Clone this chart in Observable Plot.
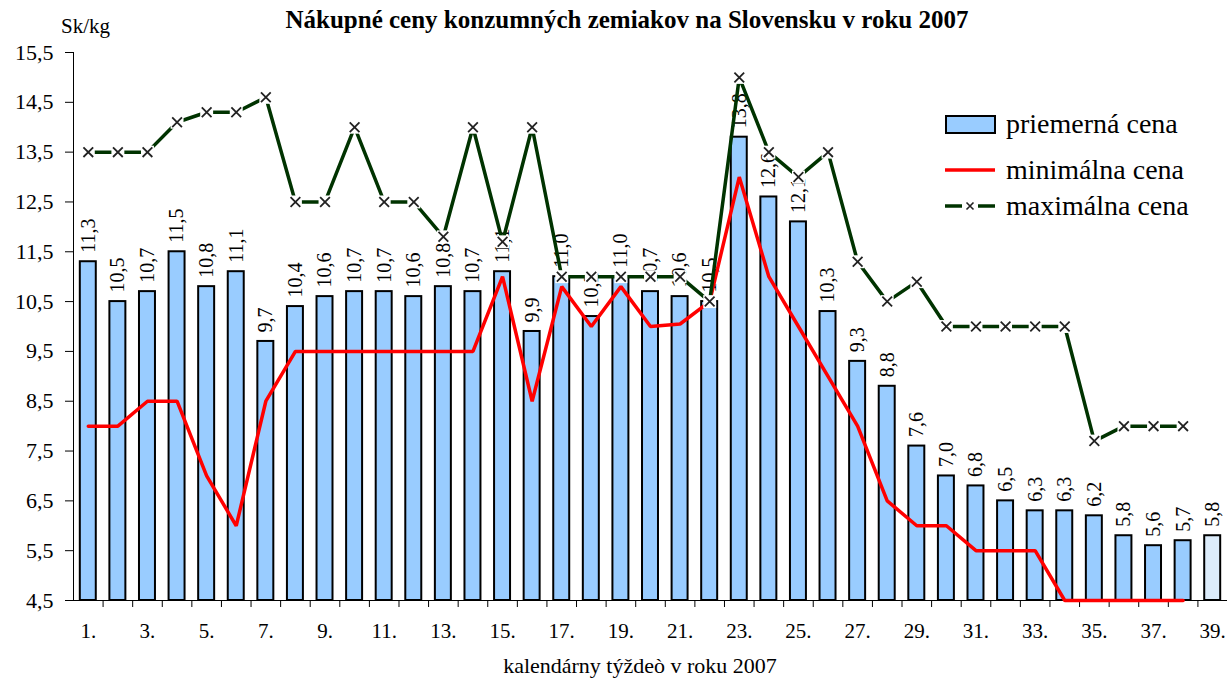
<!DOCTYPE html>
<html>
<head>
<meta charset="utf-8">
<script src="https://cdn.jsdelivr.net/npm/d3@7"></script>
<script src="https://cdn.jsdelivr.net/npm/@observablehq/plot@0.6"></script>
<style>
  html, body { margin: 0; padding: 0; background: #fff; }
  #wrap, #wrap * { font-family: "Liberation Serif", "Times New Roman", serif !important; }
  #wrap { position: relative; width: 1227px; height: 684px; color: #000; }
  #chart svg text { font-family: "Liberation Serif", "Times New Roman", serif !important; }
  .abs { position: absolute; white-space: nowrap; }
  #title { left: 0; width: 1254px; text-align: center; top: 6px; font-size: 25px; font-weight: bold; }
  #unit { left: 61px; top: 14px; font-size: 21px; }
  #xlabel { left: 0; width: 1280px; text-align: center; top: 653px; font-size: 22px; }
  .leg { position: absolute; left: 945px; font-size: 28px; display: flex; align-items: center; }
  .leg svg { margin-right: 9px; }
</style>
</head>
<body>
<div id="wrap">
  <div id="chart"></div>
  <div class="abs" id="title">Nákupné ceny konzumných zemiakov na Slovensku v roku 2007</div>
  <div class="abs" id="unit">Sk/kg</div>
  <div class="abs" id="xlabel">kalendárny týždeò v roku 2007</div>
  <div id="legend"></div>
</div>
<script>
// ---- data ----
const weeks = [1,2,3,4,5,6,7,8,9,10,11,12,13,14,15,16,17,18,19,20,21,22,23,24,25,26,27,28,29,30,31,32,33,34,35,36,37,38,39];
const avgPrice = [11.3,10.5,10.7,11.5,10.8,11.1,9.7,10.4,10.6,10.7,10.7,10.6,10.8,10.7,11.1,9.9,11.0,10.2,11.0,10.7,10.6,10.5,13.8,12.6,12.1,10.3,9.3,8.8,7.6,7.0,6.8,6.5,6.3,6.3,6.2,5.8,5.6,5.7,5.8];
const minPrice = [8.0,8.0,8.5,8.5,7.0,6.0,8.5,9.5,9.5,9.5,9.5,9.5,9.5,9.5,11.0,8.5,10.8,10.0,10.8,10.0,10.05,10.5,13.0,11.0,10.0,9.0,8.0,6.5,6.0,6.0,5.5,5.5,5.5,4.5,4.5,4.5,4.5,4.5,null];
const maxPrice = [13.5,13.5,13.5,14.1,14.3,14.3,14.6,12.5,12.5,14.0,12.5,12.5,11.8,14.0,11.7,14.0,11.0,11.0,11.0,11.0,11.0,10.5,15.0,13.5,13.0,13.5,11.3,10.5,10.9,10.0,10.0,10.0,10.0,10.0,7.7,8.0,8.0,8.0,null];
const preliminaryWeeks = [39];
const yTicks = [4.5,5.5,6.5,7.5,8.5,9.5,10.5,11.5,12.5,13.5,14.5,15.5];
const xLabelWeeks = [1,3,5,7,9,11,13,15,17,19,21,23,25,27,29,31,33,35,37,39];
const seriesNames = ["priemerná cena", "minimálna cena", "maximálna cena"];

// ---- build table ----
const rows = weeks.map((w, i) => ({week: w, avg: avgPrice[i], min: minPrice[i], max: maxPrice[i]}));
const solidBars = rows.filter(d => !preliminaryWeeks.includes(d.week));
const hatchBars = rows.filter(d => preliminaryWeeks.includes(d.week));
const minRows = rows.filter(d => d.min != null);
const maxRows = rows.filter(d => d.max != null);
const fmt = v => v.toFixed(1).replace(".", ",");
const boundaries = weeks.map(w => w + 0.5);

const BLUE = "#99ccff", RED = "#ff0000", GREEN = "#003300";
const half = 0.27;
const SERIF = "Liberation Serif";

const chart = Plot.plot({
  width: 1227,
  height: 684,
  marginTop: 52,
  marginBottom: 84,
  marginLeft: 73,
  marginRight: 0,
  style: {fontFamily: SERIF, fontSize: "22px", color: "#000", background: "#fff", overflow: "visible"},
  x: {type: "linear", domain: [0.5, 39.5], axis: null},
  y: {domain: [4.5, 15.5], axis: null},
  marks: [
    Plot.axisY({ticks: yTicks, tickFormat: fmt, tickSize: 8, tickPadding: 12, fontSize: 22, label: null, stroke: "#000"}),
    Plot.axisX({ticks: boundaries, tickSize: 7, tickFormat: () => "", label: null, stroke: "#000"}),
    Plot.axisX({ticks: xLabelWeeks, tickSize: 0, tickPadding: 23, tickFormat: d => d + ".", fontSize: 21, label: null}),
    Plot.rect(solidBars, {x1: d => d.week - half, x2: d => d.week + half, y1: 4.5, y2: "avg", fill: BLUE, stroke: "#000", strokeWidth: 2}),
    Plot.rect(hatchBars, {x1: d => d.week - half, x2: d => d.week + half, y1: 4.5, y2: "avg", fill: "#dcecfb", stroke: "#000", strokeWidth: 2, ariaLabel: "hatched"}),
    Plot.ruleX([0.5], {stroke: "#000", strokeWidth: 1}),
    Plot.ruleY([4.5], {stroke: "#000", strokeWidth: 1.2}),
    Plot.text(rows, {x: "week", y: "avg", text: d => fmt(d.avg), rotate: -90, textAnchor: "start", dy: -9, fontSize: 20, fill: "#000"}),
    Plot.line(minRows, {x: "week", y: "min", stroke: RED, strokeWidth: 3.5, strokeLinejoin: "miter"}),
    Plot.line(maxRows, {x: "week", y: "max", stroke: GREEN, strokeWidth: 3.5, strokeLinejoin: "miter"}),
    Plot.dot(maxRows, {x: "week", y: "max", symbol: "square", r: 7.3, fill: "#fff", stroke: null}),
    Plot.dot(maxRows, {x: "week", y: "max", symbol: "times", r: 4.5, stroke: "#222", strokeWidth: 1.8})
  ]
});

// hatch pattern for preliminary bar
const svg = d3.select(chart);
const defs = svg.insert("defs", ":first-child");
const pat = defs.append("pattern").attr("id", "hatch").attr("patternUnits", "userSpaceOnUse").attr("width", 4).attr("height", 4);
pat.append("rect").attr("width", 4).attr("height", 4).attr("fill", "#e2effc");
pat.append("path").attr("d", "M-1,1 l2,-2 M0,4 l4,-4 M3,5 l2,-2").attr("stroke", "#a9cdee").attr("stroke-width", 1);
svg.selectAll('g[aria-label="hatched"] rect').attr("fill", "url(#hatch)");
svg.selectAll("text").attr("font-family", SERIF);

document.getElementById("chart").appendChild(chart);

// legend
const legend = d3.select("#legend");
const tops = [108, 154, 190];
seriesNames.forEach((name, i) => {
  const item = legend.append("div").attr("class", "leg").style("top", tops[i] + "px");
  const s = item.append("svg").attr("width", 52).attr("height", 30);
  if (i === 0) {
    s.append("rect").attr("x", 1).attr("y", 7).attr("width", 49).attr("height", 17).attr("fill", BLUE).attr("stroke", "#000").attr("stroke-width", 2);
  } else if (i === 1) {
    s.append("line").attr("x1", 0).attr("x2", 50).attr("y1", 15).attr("y2", 15).attr("stroke", RED).attr("stroke-width", 3.5);
  } else {
    s.append("line").attr("x1", 0).attr("x2", 17).attr("y1", 15).attr("y2", 15).attr("stroke", GREEN).attr("stroke-width", 3.5);
    s.append("line").attr("x1", 33).attr("x2", 50).attr("y1", 15).attr("y2", 15).attr("stroke", GREEN).attr("stroke-width", 3.5);
    s.append("path").attr("d", "M21.5,11.5 L28.5,18.5 M21.5,18.5 L28.5,11.5").attr("stroke", "#222").attr("stroke-width", 1.6);
  }
  item.append("span").text(name);
});
</script>
</body>
</html>
